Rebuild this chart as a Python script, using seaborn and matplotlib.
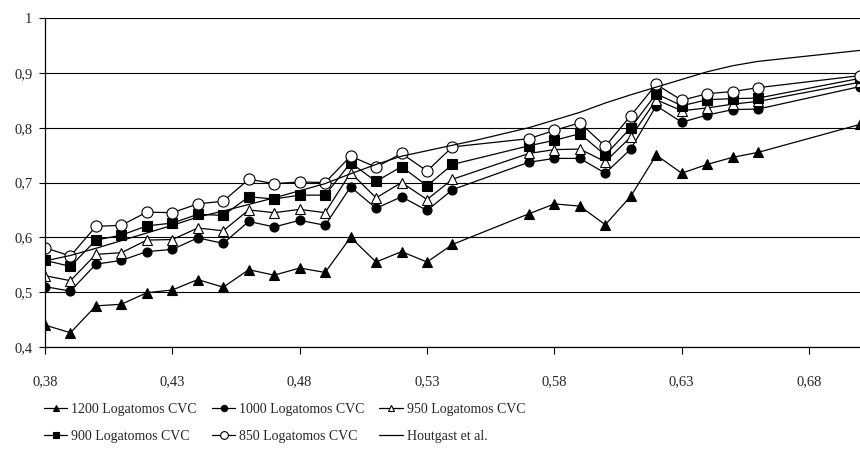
import numpy as np
import pandas as pd
import matplotlib
matplotlib.use("Agg")
import matplotlib.pyplot as plt
import seaborn as sns

# x positions carrying markers (no measurements between 0.54 and 0.57, none 0.67-0.69)
x_marked = [0.38, 0.39, 0.40, 0.41, 0.42, 0.43, 0.44, 0.45, 0.46, 0.47, 0.48,
            0.49, 0.50, 0.51, 0.52, 0.53, 0.54,
            0.57, 0.58, 0.59, 0.60, 0.61, 0.62, 0.63, 0.64, 0.65, 0.66,
            0.70]

logatomos_1200 = [0.440, 0.426, 0.475, 0.478, 0.499, 0.504, 0.523, 0.509, 0.541, 0.531, 0.544,
                  0.536, 0.600, 0.555, 0.574, 0.555, 0.587,
                  0.643, 0.661, 0.657, 0.623, 0.675, 0.750, 0.717, 0.733, 0.746, 0.755,
                  0.806]
logatomos_1000 = [0.510, 0.502, 0.551, 0.558, 0.574, 0.578, 0.599, 0.589, 0.629, 0.619, 0.631,
                  0.622, 0.692, 0.653, 0.674, 0.649, 0.687,
                  0.737, 0.744, 0.744, 0.717, 0.761, 0.840, 0.810, 0.823, 0.833, 0.834,
                  0.875]
logatomos_950 = [0.530, 0.521, 0.569, 0.572, 0.595, 0.596, 0.617, 0.612, 0.650, 0.645, 0.651,
                 0.645, 0.718, 0.672, 0.700, 0.669, 0.706,
                 0.753, 0.760, 0.761, 0.738, 0.783, 0.851, 0.831, 0.836, 0.843, 0.848,
                 0.883]
logatomos_900 = [0.558, 0.547, 0.595, 0.604, 0.621, 0.626, 0.642, 0.640, 0.674, 0.670, 0.677,
                 0.677, 0.736, 0.702, 0.729, 0.694, 0.733,
                 0.767, 0.777, 0.789, 0.750, 0.800, 0.862, 0.840, 0.851, 0.853, 0.854,
                 0.890]
logatomos_850 = [0.581, 0.566, 0.620, 0.622, 0.646, 0.645, 0.661, 0.666, 0.706, 0.698, 0.701,
                 0.700, 0.748, 0.728, 0.753, 0.721, 0.765,
                 0.780, 0.795, 0.809, 0.766, 0.822, 0.879, 0.850, 0.862, 0.866, 0.873,
                 0.895]

x_houtgast = [0.38, 0.39, 0.40, 0.41, 0.42, 0.43, 0.44, 0.45, 0.46, 0.47, 0.48,
              0.49, 0.50, 0.51, 0.52, 0.53, 0.54, 0.55, 0.56, 0.57, 0.58, 0.59,
              0.60, 0.61, 0.62, 0.63, 0.64, 0.65, 0.66, 0.67, 0.68, 0.69, 0.70]
houtgast = [0.557, 0.567, 0.580, 0.594, 0.608, 0.622, 0.637, 0.648, 0.660, 0.672, 0.685,
            0.698, 0.716, 0.733, 0.748, 0.758, 0.768, 0.778, 0.789, 0.800, 0.814, 0.828,
            0.845, 0.860, 0.874, 0.888, 0.902, 0.913, 0.921, 0.926, 0.931, 0.936, 0.941]

x_ticks = [0.38, 0.43, 0.48, 0.53, 0.58, 0.63, 0.68]
x_tick_labels = ["0,38", "0,43", "0,48", "0,53", "0,58", "0,63", "0,68"]
y_ticks = [0.4, 0.5, 0.6, 0.7, 0.8, 0.9, 1.0]
y_tick_labels = ["0,4", "0,5", "0,6", "0,7", "0,8", "0,9", "1"]

sns.set_theme(style="white")
plt.rcParams["font.family"] = ["Liberation Serif", "DejaVu Serif"]

fig = plt.figure(figsize=(8.6, 4.51), dpi=100)
ax = fig.add_axes([0.0523, 0.2306, 0.9477, 0.7294])

# (label, values, marker, face colour)
series = [
    ("1200 Logatomos CVC", logatomos_1200, "^", "black"),
    ("1000 Logatomos CVC", logatomos_1000, "o", "black"),
    ("950 Logatomos CVC", logatomos_950, "^", "white"),
    ("900 Logatomos CVC", logatomos_900, "s", "black"),
    ("850 Logatomos CVC", logatomos_850, "o", "white"),
]

for label, vals, mk, face in series:
    df = pd.DataFrame({"x": x_marked, "y": vals})
    ms = 8 if mk == "o" and face == "white" else 6.5
    sns.lineplot(data=df, x="x", y="y", ax=ax, color="black", linewidth=0.9,
                 marker=mk, markersize=ms, markerfacecolor=face,
                 markeredgecolor="black", markeredgewidth=0.8, label=label)

df_h = pd.DataFrame({"x": x_houtgast, "y": houtgast})
sns.lineplot(data=df_h, x="x", y="y", ax=ax, color="black", linewidth=0.9,
             label="Houtgast et al.")

ax.set_xlim(0.38, 0.70)
ax.set_ylim(0.4, 1.0)
ax.set_xticks(x_ticks)
ax.set_xticklabels(x_tick_labels)
ax.set_yticks(y_ticks)
ax.set_yticklabels(y_tick_labels)
ax.set_xlabel("")
ax.set_ylabel("")

ax.grid(axis="y", color="black", linewidth=0.8)
ax.grid(axis="x", visible=False)
for side in ["top", "right"]:
    ax.spines[side].set_visible(False)
for side in ["left", "bottom"]:
    ax.spines[side].set_color("black")
    ax.spines[side].set_linewidth(0.9)

ax.tick_params(axis="x", direction="out", length=5, width=0.8, color="black",
               pad=15, labelsize=10.5, bottom=True)
ax.tick_params(axis="y", direction="out", length=4, width=0.8, color="black",
               pad=5, labelsize=10.5, left=True)

# legend in row order: 1200, 1000, 950 / 900, 850, Houtgast
handles, labels = ax.get_legend_handles_labels()
order = [0, 3, 1, 4, 2, 5]
ax.legend([handles[i] for i in order], [labels[i] for i in order],
          ncol=3, loc="upper left", bbox_to_anchor=(0.051, 0.107),
          bbox_transform=fig.transFigure, frameon=False, fontsize=10,
          handlelength=1.7, handletextpad=0.25, columnspacing=1.1,
          labelspacing=1.0, markerscale=0.7, borderaxespad=0, borderpad=0)

fig.savefig("out.png", dpi=100)
